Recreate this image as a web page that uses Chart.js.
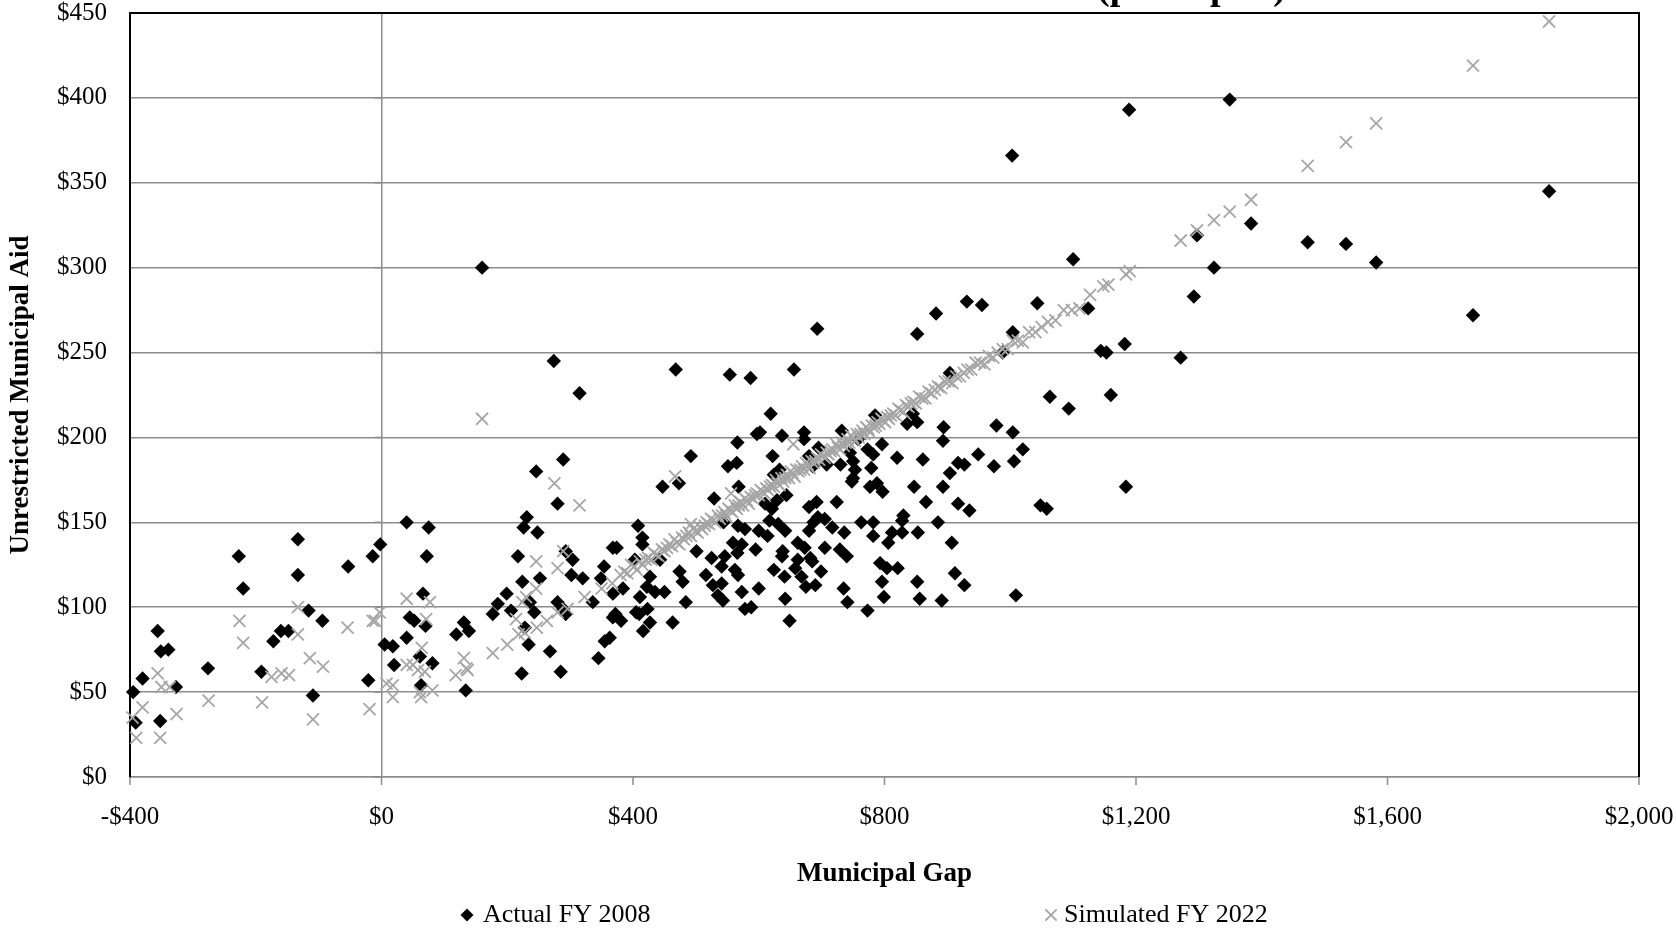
<!DOCTYPE html>
<html>
<head>
<meta charset="utf-8">
<title>Unrestricted Municipal Aid vs. Municipal Gap</title>
<script src="https://cdn.jsdelivr.net/npm/chart.js@4.4.1/dist/chart.umd.min.js"></script>
<style>
  html, body { margin: 0; padding: 0; background: #fff; }
  #wrap { width: 1676px; height: 932px; }
</style>
</head>
<body>
<div id="wrap"><canvas id="gapChart" width="1676" height="932"></canvas></div>
<script>
// values: [municipal gap, unrestricted aid], $ per capita
const actualFY2008 = [
  [-395,50],[-391,32],[-380,58],[-356,86],[-352,33],[-351,74],[-339,75],[-327,53],[-276,64],[-227,130],
  [-220,111],[-191,62],[-172,80],[-160,86],[-148,86],[-133,140],[-133,119],[-116,98],[-109,48],[-94,92],
  [-53,124],[-21,57],[-14,130],[-2,137],
  [72,130],[217,130],[304,128],[354,124],[66,108],[45,94],[52,92],[70,89],[5,78],[18,77],
  [40,82],[20,66],[61,71],[81,67],[63,54],[134,51],[131,91],[139,86],[119,84],[177,96],
  [185,102],[199,108],[206,98],[224,115],[252,117],[236,103],[243,97],[228,88],[234,78],[223,61],
  [268,74],[285,62],[280,103],[289,99],[293,96],[302,119],[320,117],[349,117],[336,103],[345,70],
  [355,80],[363,82],[368,108],[368,94],
  [274,245],[315,226],[289,187],[246,180],[280,161],[231,153],[226,147],[248,144],[40,150],[75,147],
  [293,133],[368,135],[160,300],
  [468,240],[554,237],[587,235],[656,240],[619,214],[566,197],[597,202],[602,203],[637,201],[672,203],
  [672,199],[732,204],[492,189],[551,183],[565,185],[622,189],[680,189],[695,194],[708,184],[730,184],
  [745,191],[686,183],[633,181],[624,178],[447,171],[473,173],[568,171],[529,164],[644,166],[610,161],
  [621,158],[629,163],[692,162],[680,159],[724,162],[748,174],[694,153],[705,152],[617,151],[631,149],
  [642,145],[600,145],[614,142],[544,150],[567,148],[578,146],[680,145],[687,150],[717,147],[736,144],
  [408,148],[415,141],[415,137],[374,135],[559,138],[573,137],[595,134],[638,133],[662,138],[673,135],
  [705,135],[729,134],[740,130],[501,133],[525,129],[546,130],[566,132],[443,128],
  [427,118],[422,112],[435,109],[450,109],[384,111],[411,106],[423,99],[372,96],[381,92],[405,97],
  [410,96],[427,91],[416,86],[463,91],[484,103],[474,121],[479,115],[516,119],[541,124],[527,113],
  [541,114],[535,107],[543,104],[562,122],[567,119],[573,109],[600,111],[578,99],[588,100],[624,122],
  [641,118],[658,123],[668,118],[685,127],[699,121],[675,112],[690,113],[642,105],[649,92],[735,111],
  [741,103],[637,130],[662,128],[682,129],[403,128],
  [793,126],[804,123],[821,123],[796,115],[852,115],[912,120],[927,113],[799,106],[856,105],[891,104],
  [1009,107],[773,98],
  [988,250],[904,238],[1063,224],[1093,217],[845,214],[836,208],[852,209],[785,213],[894,206],[978,207],
  [1004,203],[893,198],[1020,193],[949,190],[1006,186],[974,183],[917,185],[927,184],[904,179],[893,171],
  [861,187],[820,188],[796,196],[758,199],[773,193],[782,190],[750,186],[753,181],[750,176],[779,182],
  [777,171],[788,173],[797,168],[847,171],[866,162],[917,161],[935,157],[1048,160],[1058,158],[830,154],
  [828,151],[885,150],[763,150],[782,150],[812,144],[828,144],[782,142],[853,144],[806,138],[907,138],
  [1100,305],[693,264],[931,280],[955,278],[882,273],[852,261],[1043,279],[1004,262],[1124,276],[1189,393],
  [1349,399],[1857,345],[1383,326],[1473,315],[1534,314],[1582,303],[1324,300],[1297,319],[1292,283],[1736,272],
  [1182,255],[1144,251],[1153,250],[1271,247],[1160,225],[1184,171],[1003,366]
];

const simulatedFY2022 = [
  [-226,92],[-220,79],[-133,100],[-133,84],[-114,70],[-93,65],[-54,88],[-19,40],[-14,92],[-356,61],
  [-350,53],[-337,53],[-380,41],[-396,35],[-390,23],[-352,23],[-326,37],[-275,45],[-190,44],[-175,59],
  [-159,61],[-147,60],[-109,34],
  [-10,92],[-3,97],[40,105],[77,103],[71,93],[64,76],[40,66],[50,66],[58,63],[69,62],[8,55],
  [18,54],[18,47],[61,50],[63,47],[81,51],[118,60],[131,70],[135,64],[137,63],
  [214,93],[246,111],[230,106],[224,103],[246,127],[280,123],[160,211],[275,173],[315,160],[289,133],
  [467,177],[492,149],[556,167],[655,196],
  [177,73],[200,78],[218,84],[228,85],[247,88],[263,92],[280,97],[296,99],[323,106],[350,111],[367,114],
  [380,119],[386,121],[391,120],[397,125],[402,124],[406,122],[411,127],[415,125],[420,128],[424,129],
  [429,128],[433,132],[437,131],[441,130],[446,134],[450,133],[454,135],[458,137],[462,136],[466,140],
  [470,138],[474,137],[478,141],[481,140],[485,142],[489,144],[492,142],[496,146],[500,145],[503,144],
  [507,147],[510,146],[514,148],[517,150],[521,149],[524,152],[528,151],[531,150],[535,154],[538,152],
  [542,154],[545,156],[548,154],[552,158],[555,157],[558,156],[562,160],[565,158],[568,160],[571,162],
  [575,160],[578,164],[581,163],[584,161],[587,165],[591,164],[594,166],[597,167],[600,166],[603,169],
  [606,168],[609,167],[612,170],[615,169],[618,171],[621,172],[624,171],[627,175],[630,173],[633,172],
  [636,176],[639,174],[642,176],[645,178],[648,176],[651,180],[654,179],[657,177],[660,181],[663,180],
  [666,181],[669,183],[672,181],[675,185],[678,184],[681,182],[684,186],[687,185],[690,186],[693,188],
  [696,187],[699,190],[702,189],[705,188],[708,191],[711,190],[714,192],[717,193],[720,192],[723,196],
  [726,194],[729,193],[732,197],[735,195],[738,197],[741,199],[744,197],[747,201],[750,200],[753,198],
  [756,202],[759,200],[762,202],[765,204],[768,202],[771,206],[774,205],[777,203],[780,207],[783,206],
  [786,207],[789,209],[792,208],[795,211],[798,210],[801,209],[804,212],[807,211],[810,213],[814,214],
  [818,213],[822,217],[826,216],[830,215],[834,219],[838,218],[842,220],[846,221],[850,220],[855,224],
  [860,223],[865,223],[870,227],[875,226],[880,228],[885,230],[890,229],[896,233],[902,233],[908,232],
  [914,236],[920,236],[926,238],[932,240],[938,240],[945,244],[952,244],[959,243],[966,248],[973,247],
  [980,250],[988,252],[996,252],[1004,257],[1012,257],[1020,256],[1030,262],[1040,262],[1050,265],[1060,268],
  [1072,269],[1085,275],[1098,275],[1110,276],[1127,284],[1148,289],[1156,290],[1184,296],[1190,298],
  [1271,316],[1297,322],[1324,328],[1349,333],[1383,340],[1473,360],[1534,374],[1582,385],[1736,419],[1857,445]
];

const seriesNames = ['Actual FY 2008', 'Simulated FY 2022'];
const xTicks = [-400, 0, 400, 800, 1200, 1600, 2000];
const yTicks = [0, 50, 100, 150, 200, 250, 300, 350, 400, 450];
const chartTitle = '(per capita)';
const xTitle = 'Municipal Gap';
const yTitle = 'Unrestricted Municipal Aid';

const FONT = "'Liberation Serif', 'Times New Roman', serif";
const GRID = '#8c8c8c';
const SIM_GRAY = '#a6a6a6';
const NONE = 'rgba(0,0,0,0)';

function money(v) {
    const s = '$' + Math.abs(v).toLocaleString('en-US');
    return v < 0 ? '-' + s : s;
}

// frame, small tick marks, cut-off title and the legend row
const extras = {
    id: 'extras',
    beforeDatasetsDraw(chart) {
        const { ctx, chartArea: a, scales: { x, y } } = chart;
        ctx.save();
        ctx.strokeStyle = GRID;
        ctx.lineWidth = 1.5;
        const x0 = x.getPixelForValue(0);
        yTicks.forEach(v => {
            const py = y.getPixelForValue(v);
            ctx.beginPath();
            ctx.moveTo(x0 - 7, py);
            ctx.lineTo(x0, py);
            ctx.stroke();
        });
        xTicks.forEach(v => {
            const px = x.getPixelForValue(v);
            ctx.beginPath();
            ctx.moveTo(px, a.bottom);
            ctx.lineTo(px, a.bottom + 8);
            ctx.stroke();
        });
        ctx.strokeStyle = '#000';
        ctx.lineWidth = 2;
        ctx.beginPath();
        ctx.moveTo(a.left, a.top);
        ctx.lineTo(a.right, a.top);
        ctx.lineTo(a.right, a.bottom);
        ctx.stroke();
        ctx.restore();
    },
    afterDraw(chart) {
        const { ctx } = chart;
        ctx.save();
        ctx.fillStyle = '#000';
        ctx.font = "bold 38px " + FONT;
        ctx.textBaseline = 'alphabetic';
        ctx.textAlign = 'left';
        ctx.fillText(chartTitle, 1097, -1);

        // legend
        const ly = 915;
        const items = [
            { x: 467, tx: 483, ds: chart.data.datasets[0], r: 6.5 },
            { x: 1051, tx: 1064, ds: chart.data.datasets[1], r: 8 }
        ];
        ctx.font = "26px " + FONT;
        ctx.textBaseline = 'middle';
        items.forEach(it => {
            ctx.fillStyle = it.ds.pointBackgroundColor;
            ctx.strokeStyle = it.ds.pointBorderColor;
            ctx.lineWidth = it.ds.pointBorderWidth;
            Chart.helpers.drawPoint(ctx, {
                pointStyle: it.ds.pointStyle, radius: it.r, rotation: 0,
                borderWidth: it.ds.pointBorderWidth
            }, it.x, ly);
            ctx.fillStyle = '#000';
            ctx.fillText(it.ds.label, it.tx, ly);
        });
        ctx.restore();
    }
};

new Chart(document.getElementById('gapChart'), {
    type: 'scatter',
    data: {
        datasets: [{
            label: seriesNames[0],
            data: actualFY2008.map(([x, y]) => ({ x, y })),
            pointStyle: 'rectRot',
            pointRadius: 7.2,
            pointBackgroundColor: '#000',
            pointBorderColor: '#000',
            pointBorderWidth: 0,
            order: 2,
            clip: false
        }, {
            label: seriesNames[1],
            data: simulatedFY2022.map(([x, y]) => ({ x, y })),
            pointStyle: 'crossRot',
            pointRadius: 8.5,
            pointBackgroundColor: SIM_GRAY,
            pointBorderColor: SIM_GRAY,
            pointBorderWidth: 1.8,
            order: 1,
            clip: false
        }]
    },
    options: {
        responsive: false,
        animation: false,
        events: [],
        layout: { padding: { top: 13, right: 37, bottom: 40, left: 0 } },
        plugins: {
            legend: { display: false },
            tooltip: { enabled: false }
        },
        scales: {
            x: {
                type: 'linear',
                position: 'bottom',
                min: -400,
                max: 2000,
                afterBuildTicks: s => { s.ticks = xTicks.map(v => ({ value: v })); },
                afterFit: s => { s.height = 115; },
                grid: {
                    color: c => (c.tick && c.tick.value === 0) ? GRID : NONE,
                    lineWidth: 1.5,
                    drawTicks: true,
                    tickLength: 28,
                    tickColor: NONE
                },
                border: { color: GRID, width: 1.5 },
                ticks: {
                    padding: 0,
                    color: '#000',
                    font: { family: FONT, size: 25, lineHeight: 1 },
                    maxRotation: 0,
                    callback: v => money(v)
                },
                title: {
                    display: true,
                    text: xTitle,
                    color: '#000',
                    font: { family: FONT, size: 27, weight: 'bold' },
                    padding: { top: 0, bottom: 2 }
                }
            },
            y: {
                min: 0,
                max: 450,
                afterBuildTicks: s => { s.ticks = yTicks.map(v => ({ value: v })); },
                afterFit: s => { s.width = 130; },
                grid: { color: GRID, lineWidth: 1.5, drawTicks: true, tickLength: 23, tickColor: NONE },
                border: { color: '#000', width: 2 },
                ticks: {
                    padding: 0,
                    color: '#000',
                    font: { family: FONT, size: 25, lineHeight: 1 },
                    callback: v => money(v)
                },
                title: {
                    display: true,
                    text: yTitle,
                    color: '#000',
                    font: { family: FONT, size: 27, weight: 'bold' },
                    padding: { top: 5, bottom: 0 }
                }
            }
        }
    },
    plugins: [extras]
});
</script>
</body>
</html>
